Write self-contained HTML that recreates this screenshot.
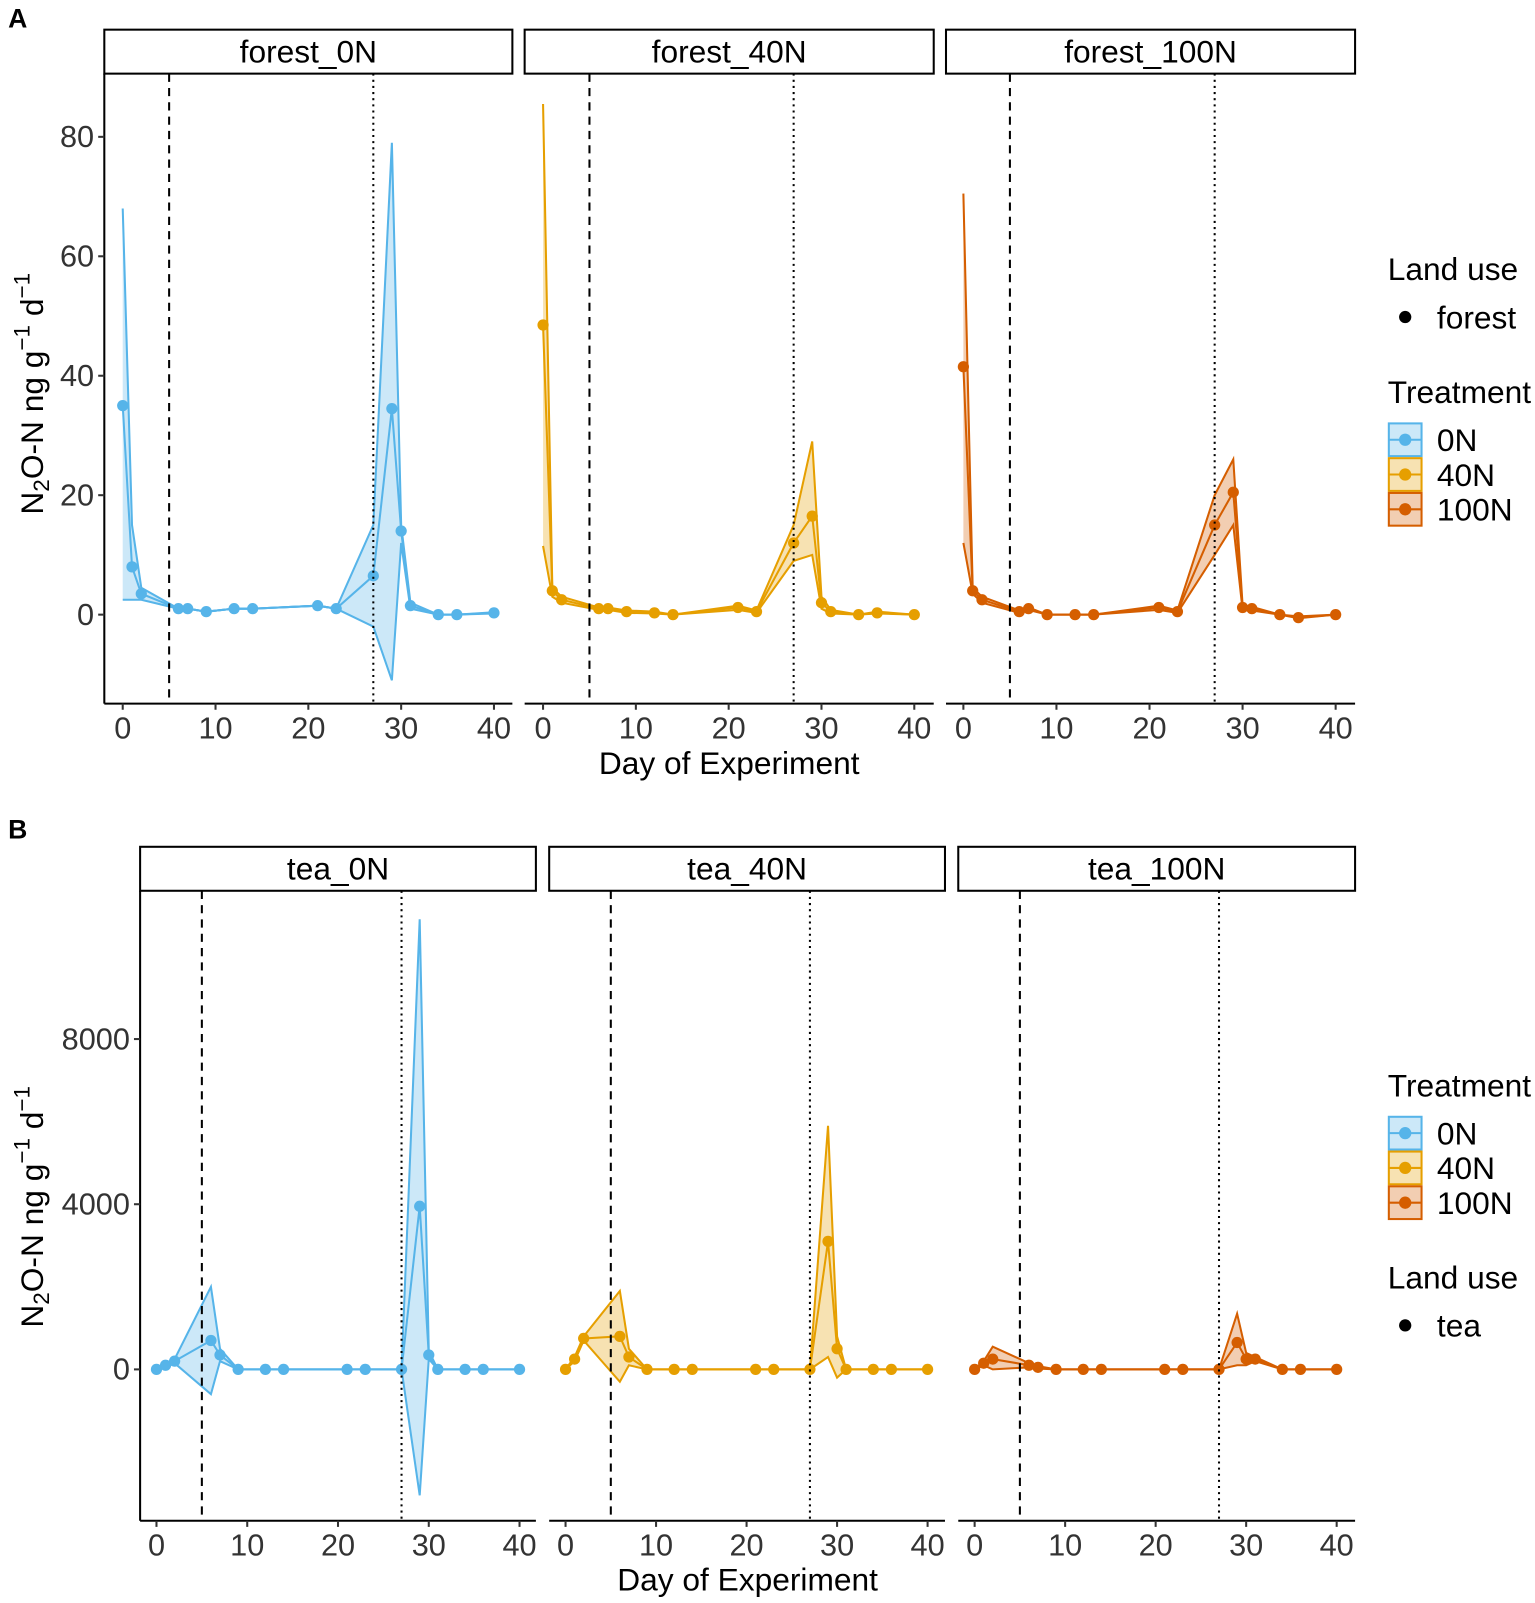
<!DOCTYPE html>
<html><head><meta charset="utf-8"><style>
body{margin:0;background:#fff}
svg text{font-family:"Liberation Sans",sans-serif;}
</style></head><body>
<svg width="1535" height="1598" xmlns="http://www.w3.org/2000/svg"><g id="s" transform="scale(1.0227)"></g></svg>
<script>
const S=document.getElementById('s');let h='';
const C=['#56B4E9','#E69F00','#D55E00'];
const D=[0,1,2,6,7,9,12,14,21,23,27,29,30,31,34,36,40];
function mk(m,lo,hi){return {m,lo,hi};}
const F=[
 mk([35,8,3.5,1,1,0.5,1,1,1.5,1,6.5,34.5,14,1.5,0,0,0.3],
    [2.5,2.5,2.5,1,1,0.5,1,1,1.5,1,-2,-11,12,1,0,0,0.2],
    [68,15,4.5,1,1,0.5,1,1,1.5,1,15,79,15,2,0,0,0.4]),
 mk([48.5,4,2.5,1,1,0.5,0.3,0,1.2,0.5,12,16.5,2,0.5,0,0.3,0],
    [11.5,3,2,0.8,0.8,0.3,0.2,0,0.8,0.3,9,10,1,0.2,0,0.2,0],
    [85.5,4.5,3,1.2,1.2,0.7,0.5,0,1.5,0.7,15,29,3,0.8,0,0.5,0]),
 mk([41.5,4,2.5,0.5,1,0,0,0,1.2,0.5,15,20.5,1.2,1,0,-0.5,0],
    [12,3.5,2,0.3,0.8,0,0,0,0.8,0.3,10,15,0.8,0.7,0,-0.6,0],
    [70.5,4.5,3,0.7,1.2,0,0,0,1.5,0.7,20,26,1.6,1.3,0,-0.3,0])];
const T=[
 mk([0,100,200,700,350,0,0,0,0,0,0,3950,350,0,0,0,0],
    [0,50,150,-600,200,0,0,0,0,0,0,-3050,250,0,0,0,0],
    [0,150,250,2000,500,0,0,0,0,0,0,10900,450,0,0,0,0]),
 mk([0,250,750,800,300,0,0,0,0,0,0,3100,500,0,0,0,0],
    [0,200,700,-300,100,0,0,0,0,0,0,300,-200,0,0,0,0],
    [0,300,800,1900,500,0,0,0,0,0,0,5900,800,0,0,0,0]),
 mk([0,150,250,100,50,0,0,0,0,0,0,650,250,250,0,0,0],
    [0,100,0,50,20,0,0,0,0,0,0,100,100,200,0,0,0],
    [0,200,550,150,80,0,0,0,0,0,0,1350,400,300,0,0,0])];
function panel(px0,px1,x0,x40,yt,yb,y0,ys,data,col,name,first,yticks){
 const X=d=>x0+(x40-x0)*d/40, Y=v=>y0-v*ys;
 h+=`<rect x="${px0}" y="${yt-43}" width="${px1-px0}" height="43" fill="#fff" stroke="#000" stroke-width="2"/>`;
 h+=`<text x="${(px0+px1)/2}" y="${yt-11}" font-size="31" text-anchor="middle">${name}</text>`;
 let up=D.map((d,i)=>X(d)+','+Y(data.hi[i])).join(' ');
 let dn=D.map((d,i)=>X(d)+','+Y(data.lo[i])).reverse().join(' ');
 h+=`<polygon points="${up} ${dn}" fill="${col}" fill-opacity="0.3" stroke="none"/>`;
 for(const a of [data.hi,data.lo,data.m])
  h+=`<polyline points="${D.map((d,i)=>X(d)+','+Y(a[i])).join(' ')}" fill="none" stroke="${col}" stroke-width="2"/>`;
 D.forEach((d,i)=>h+=`<circle cx="${X(d)}" cy="${Y(data.m[i])}" r="5.5" fill="${col}"/>`);
 h+=`<line x1="${X(5)}" y1="${yt}" x2="${X(5)}" y2="${yb}" stroke="#000" stroke-width="2" stroke-dasharray="8,6"/>`;
 h+=`<line x1="${X(27)}" y1="${yt}" x2="${X(27)}" y2="${yb}" stroke="#000" stroke-width="2" stroke-dasharray="2,4"/>`;
 h+=`<line x1="${px0}" y1="${yb}" x2="${px1}" y2="${yb}" stroke="#000" stroke-width="2"/>`;
 for(let d=0;d<=40;d+=10){h+=`<line x1="${X(d)}" y1="${yb}" x2="${X(d)}" y2="${yb+6}" stroke="#333" stroke-width="2"/><text x="${X(d)}" y="${yb+34}" font-size="30" fill="#333" text-anchor="middle">${d}</text>`;}
 if(first){h+=`<line x1="${px0}" y1="${yt}" x2="${px0}" y2="${yb}" stroke="#000" stroke-width="2"/>`;
  for(const v of yticks){h+=`<line x1="${px0-6}" y1="${Y(v)}" x2="${px0}" y2="${Y(v)}" stroke="#333" stroke-width="2"/><text x="${px0-10}" y="${Y(v)+10}" font-size="30" fill="#333" text-anchor="end">${v}</text>`;}}
}
const fn=['forest_0N','forest_40N','forest_100N'],tn=['tea_0N','tea_40N','tea_100N'];
const pa=[[102,501,120,483],[513,913,531,894],[925,1325,942,1306]];
const pb=[[137,524,153,508],[537,924,553,907],[937,1325,953,1307]];
for(let i=0;i<3;i++){
 panel(pa[i][0],pa[i][1],pa[i][2],pa[i][3],72,688,601,5.84,F[i],C[i],fn[i],i==0,[0,20,40,60,80]);
 panel(pb[i][0],pb[i][1],pb[i][2],pb[i][3],871,1487,1339,0.040375,T[i],C[i],tn[i],i==0,[0,4000,8000]);
}
h+=`<text x="8" y="27" font-size="26" font-weight="bold">A</text><text x="8" y="820" font-size="26" font-weight="bold">B</text>`;
h+=`<text x="713" y="757" font-size="31" text-anchor="middle">Day of Experiment</text>`;
h+=`<text x="731" y="1555" font-size="31" text-anchor="middle">Day of Experiment</text>`;
function ylab(cx,cy){h+=`<text transform="translate(${cx},${cy}) rotate(-90)" font-size="31" text-anchor="middle">N<tspan font-size="22" dy="6">2</tspan><tspan dy="-6">O-N  ng  g</tspan><tspan font-size="22" dy="-13">−1</tspan><tspan dy="13"> d</tspan><tspan font-size="22" dy="-13">−1</tspan></text>`;}
ylab(42,385);ylab(42,1180);
function legT(y){h+=`<text x="1357" y="${y}" font-size="31">Treatment</text>`;
 ['0N','40N','100N'].forEach((t,i)=>{const yy=y+20+i*34;
 h+=`<rect x="1358" y="${yy}" width="32" height="32" fill="${C[i]}" fill-opacity="0.3" stroke="${C[i]}" stroke-width="2"/><line x1="1358" y1="${yy+16}" x2="1390" y2="${yy+16}" stroke="${C[i]}" stroke-width="2"/><circle cx="1374" cy="${yy+16}" r="6" fill="${C[i]}"/><text x="1405" y="${yy+27}" font-size="31">${t}</text>`;});}
function legL(y,t){h+=`<text x="1357" y="${y}" font-size="31">Land use</text><circle cx="1374" cy="${y+36}" r="6" fill="#000"/><text x="1405" y="${y+47}" font-size="31">${t}</text>`;}
legL(274,'forest');legT(394);
legT(1072);legL(1260,'tea');
S.innerHTML=h;
</script>
</body></html>
